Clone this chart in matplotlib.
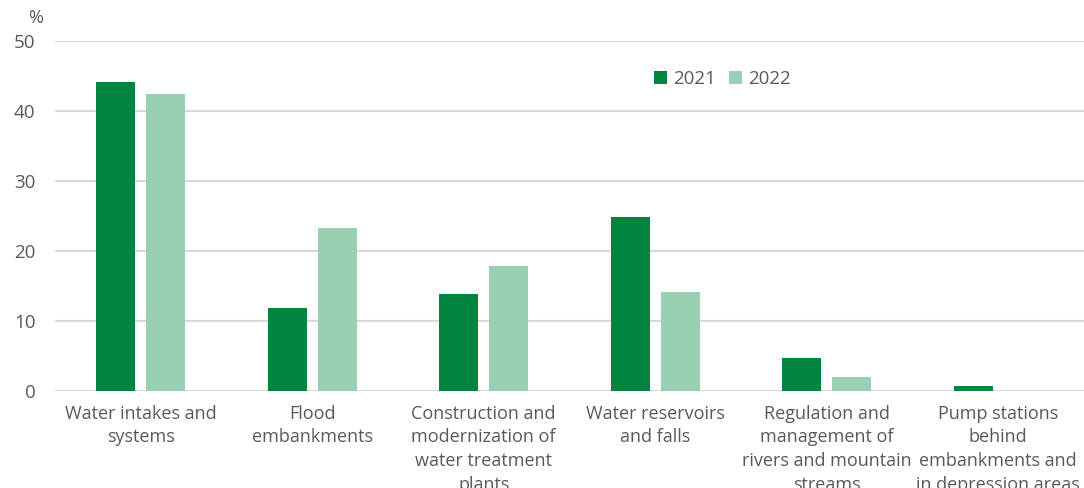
import numpy as np
import matplotlib.pyplot as plt

plt.rcParams['font.family'] = ['Open Sans', 'DejaVu Sans']

categories = [
    "Water intakes and\nsystems",
    "Flood\nembankments",
    "Construction and\nmodernization of\nwater treatment\nplants",
    "Water reservoirs\nand falls",
    "Regulation and\nmanagement of\nrivers and mountain\nstreams",
    "Pump stations\nbehind\nembankments and\nin depression areas",
]
values_2021 = [44.1, 11.9, 13.9, 24.8, 4.7, 0.7]
values_2022 = [42.4, 23.3, 17.9, 14.2, 2.0, 0.0]

dark = "#00843f"
light = "#99cfb2"
text_col = "#595959"
grid_col = "#d9d9d9"

fig = plt.figure(figsize=(10.84, 4.88), dpi=100)
ax = fig.add_axes([0.0507, 0.199, 0.9493, 0.717])

x = np.arange(len(categories))
w = 0.228
off = 0.145
ax.bar(x - off, values_2021, w, color=dark, label="2021", zorder=3)
ax.bar(x + off, values_2022, w, color=light, label="2022", zorder=3)

ax.set_xlim(-0.5, len(categories) - 0.5)
ax.set_ylim(0, 50)
ax.set_yticks(range(0, 51, 10))
ax.yaxis.grid(True, color=grid_col, linewidth=1.5, zorder=0)
ax.set_axisbelow(True)
for s in ax.spines.values():
    s.set_visible(False)
ax.tick_params(length=0, colors=text_col, labelsize=13)
ax.tick_params(axis='y', pad=14, labelsize=13.5)
ax.set_xticks(x)
ax.set_xticklabels(categories, linespacing=1.4, color=text_col)
ax.tick_params(axis='x', pad=10)

fig.text(0.0325, 0.963, "%", color=text_col, fontsize=13, ha='center', va='center')

ax.legend(loc='upper left', bbox_to_anchor=(0.566, 0.965), ncol=2, frameon=False,
          fontsize=13.5, labelcolor=text_col, handlelength=0.7, handleheight=0.7,
          handletextpad=0.3, columnspacing=0.7)

fig.savefig("out.png", dpi=100)
